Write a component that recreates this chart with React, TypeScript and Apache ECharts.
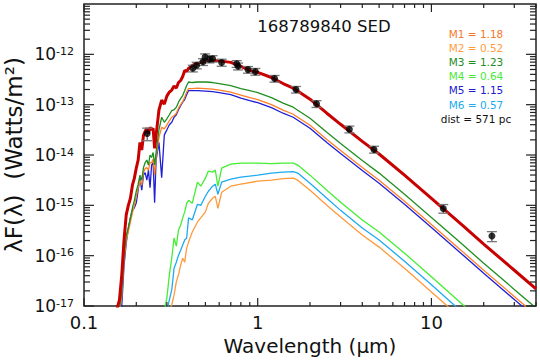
import React, { useEffect, useRef } from 'react';
import * as echarts from 'echarts';

const FONT = '"DejaVu Sans", Verdana, sans-serif';
const X_MIN = 0.1;
const X_MAX = 40;
const Y_MIN = 1e-17;
const Y_MAX = 1e-11;

// wavelength grid (micron) for total model and the three hotter components
const hotGrid = [
  0.155, 0.16, 0.165, 0.17, 0.175, 0.18, 0.185, 0.19, 0.195, 0.2, 0.205, 0.21, 0.215, 0.22, 0.225,
  0.23, 0.235, 0.24, 0.245, 0.25, 0.255, 0.26,
  0.27, 0.28, 0.29, 0.3, 0.31, 0.32, 0.33, 0.34, 0.35, 0.36, 0.37, 0.38, 0.39, 0.4,
  0.42, 0.45, 0.5, 0.55, 0.6, 0.7, 0.8, 0.9, 1.0,
  1.2, 1.4, 1.6, 2.0, 2.5, 3, 4, 5, 7, 10, 15, 20, 30, 40,
];
// log10 of lambda*F(lambda) [W/m^2]
const totalLog = [
  -17.05, -16.88, -16.38, -15.69, -15.19, -15.0, -14.86, -14.6, -14.46, -14.26, -14.1, -13.75, -13.9, -13.61, -13.53,
  -13.47, -13.57, -13.45, -13.5, -13.47, -13.87, -13.61,
  -13.11, -12.91, -12.99, -12.83, -12.75, -12.71, -12.63, -12.67, -12.56, -12.52, -12.44, -12.32, -12.34, -12.28,
  -12.22, -12.18, -12.14, -12.12, -12.13, -12.16, -12.24, -12.32, -12.36,
  -12.46, -12.58, -12.67, -12.89, -13.17, -13.39, -13.73, -13.98, -14.4, -14.86, -15.39, -15.77, -16.29, -16.66,
];
const m3Log = [
  -17.3, -17.05, -16.7, -16.0, -15.6, -15.45, -15.25, -15.05, -14.9, -14.72, -14.58, -14.4, -14.5, -14.25, -14.15,
  -14.1, -14.2, -14.0, -14.05, -13.95, -14.2, -13.95,
  -13.5, -13.25, -13.35, -13.28, -13.2, -13.12, -13.1, -13.05, -12.95, -12.88, -12.82, -12.72, -12.62, -12.55,
  -12.56, -12.55, -12.55, -12.56, -12.58, -12.62, -12.68, -12.72, -12.76,
  -12.86, -12.97, -13.05, -13.27, -13.55, -13.77, -14.11, -14.36, -14.78, -15.24, -15.77, -16.15, -16.67, -17.04,
];
const m1Log = [
  -17.4, -17.12, -16.8, -16.1, -15.7, -15.52, -15.33, -15.15, -15.0, -14.82, -14.66, -14.5, -14.6, -14.35, -14.27,
  -14.25, -14.3, -14.15, -14.15, -14.08, -14.4, -14.05,
  -13.65, -13.45, -13.48, -13.4, -13.32, -13.25, -13.22, -13.17, -13.07, -13.0, -12.94, -12.85, -12.75, -12.68,
  -12.68, -12.67, -12.68, -12.69, -12.71, -12.75, -12.81, -12.86, -12.9,
  -13.0, -13.11, -13.19, -13.41, -13.69, -13.91, -14.25, -14.5, -14.92, -15.38, -15.91, -16.29, -16.81, -17.18,
];
const m5Log = [
  -17.6, -17.3, -17.0, -16.2, -15.75, -15.45, -15.25, -15.1, -15.05, -14.95, -14.7, -14.45, -14.7, -14.4, -14.35,
  -14.5, -14.3, -14.65, -14.2, -14.15, -14.95, -14.1,
  -13.75, -14.45, -13.6, -13.5, -13.4, -13.35, -13.25, -13.2, -13.1, -13.02, -12.95, -12.9, -12.8, -12.72,
  -12.72, -12.72, -12.73, -12.74, -12.76, -12.8, -12.87, -12.92, -12.96,
  -13.06, -13.17, -13.25, -13.47, -13.75, -13.97, -14.31, -14.56, -14.98, -15.44, -15.97, -16.35, -16.87, -17.24,
];

// wavelength grid for the three cooler components
const coolGrid = [
  0.29, 0.3, 0.31, 0.32, 0.33, 0.34, 0.35, 0.36, 0.37, 0.38, 0.39, 0.4,
  0.42, 0.45, 0.47, 0.5, 0.52, 0.55, 0.57, 0.59, 0.62,
  0.7, 0.8, 1.0, 1.2, 1.4, 1.6, 1.7,
  2.0, 2.5, 3, 4, 5, 7, 10, 15, 20,
];
const m4Log = [
  -17.08, -16.84, -16.38, -16.05, -15.65, -15.81, -15.49, -15.39, -15.25, -15.13, -14.96, -14.9,
  -14.96, -14.54, -14.62, -14.46, -14.32, -14.34, -14.3, -14.62, -14.26,
  -14.18, -14.16, -14.16, -14.17, -14.16, -14.16, -14.2,
  -14.4, -14.7, -14.94, -15.29, -15.53, -15.95, -16.42, -16.96, -17.34,
];
const m6Log = [
  -17.5, -17.1, -16.88, -16.68, -16.25, -16.13, -15.99, -15.89, -15.79, -15.69, -15.65, -15.25,
  -15.29, -14.98, -15.0, -14.82, -14.72, -14.62, -14.58, -14.78, -14.54,
  -14.48, -14.44, -14.4, -14.36, -14.34, -14.33, -14.36,
  -14.56, -14.86, -15.1, -15.45, -15.69, -16.11, -16.58, -17.12, -17.5,
];
const m2Log = [
  -17.6, -17.4, -17.05, -16.98, -16.78, -16.52, -16.38, -16.19, -16.05, -16.13, -15.85, -15.73,
  -15.53, -15.33, -15.25, -15.13, -14.96, -14.86, -14.82, -15.06, -14.74,
  -14.62, -14.58, -14.52, -14.5, -14.47, -14.46, -14.5,
  -14.7, -15.0, -15.23, -15.59, -15.83, -16.25, -16.72, -17.26, -17.6,
];

// photometry
const photWave = [0.231, 0.423, 0.445, 0.484, 0.498, 0.528, 0.55, 0.62, 0.757, 0.771, 0.879, 0.969, 1.25, 1.66, 2.18, 3.37, 4.67, 11.7, 22.3];
const photFlux = [2.67e-14, 5.27e-13, 6.05e-13, 7.1e-13, 8.8e-13, 7.96e-13, 8.2e-13, 6.9e-13, 6.5e-13, 5.8e-13, 4.97e-13, 4.54e-13, 3.3e-13, 2.0e-13, 1.04e-13, 3.25e-14, 1.29e-14, 8.67e-16, 2.45e-16];
const photErr = [0.75e-14, 0.8e-13, 0.9e-13, 1.1e-13, 1.4e-13, 1.2e-13, 1.2e-13, 1.1e-13, 1.0e-13, 0.9e-13, 0.75e-13, 0.7e-13, 0.5e-13, 0.3e-13, 0.16e-13, 0.5e-14, 0.2e-14, 1.7e-16, 0.55e-16];

const legendLabels = ['M1 = 1.18', 'M2 = 0.52', 'M3 = 1.23', 'M4 = 0.64', 'M5 = 1.15', 'M6 = 0.57', 'dist = 571 pc'];
const legendColors = ['#f5792a', '#ff9c3f', '#1e8c1e', '#4ae83a', '#2020d0', '#22aaee', '#111111'];
const titleText = '168789840 SED';

const pairs = (grid: number[], logs: number[]) => grid.map((w, i) => [w, Math.pow(10, logs[i])]);

const isDecade = (v: number) => {
  const l = Math.log10(v);
  return Math.abs(l - Math.round(l)) < 1e-6;
};

export default function App() {
  const ref = useRef<HTMLDivElement>(null);
  useEffect(() => {
    if (!ref.current) return;
    const chart = echarts.init(ref.current, undefined, { renderer: 'svg' });

    const comp = (name: string, grid: number[], logs: number[], color: string, width = 1.3) => ({
      name,
      type: 'line',
      data: pairs(grid, logs),
      showSymbol: false,
      symbol: 'none',
      lineStyle: { color, width },
      itemStyle: { color },
      clip: true,
      silent: true,
    });

    const tickRender = (params: any, api: any) => {
      const cs = params.coordSys;
      const left = cs.x, right = cs.x + cs.width, top = cs.y, bottom = cs.y + cs.height;
      const children: any[] = [];
      const st = { stroke: '#222', lineWidth: 1.2 };
      for (let k = -1; k <= 1; k++) {
        for (let m = 1; m <= 9; m++) {
          const v = m * Math.pow(10, k);
          if (v < X_MIN - 1e-9 || v > X_MAX) continue;
          const px = api.coord([v, 1e-14])[0];
          const len = m === 1 ? 8 : 4;
          children.push({ type: 'line', shape: { x1: px, y1: bottom, x2: px, y2: bottom - len }, style: st });
          children.push({ type: 'line', shape: { x1: px, y1: top, x2: px, y2: top + len }, style: st });
        }
      }
      for (let k = -17; k <= -12; k++) {
        for (let m = 1; m <= 9; m++) {
          const v = m * Math.pow(10, k);
          const py = api.coord([1, v])[1];
          const len = m === 1 ? 10 : 6;
          children.push({ type: 'line', shape: { x1: left, y1: py, x2: left + len, y2: py }, style: st });
          children.push({ type: 'line', shape: { x1: right, y1: py, x2: right - len, y2: py }, style: st });
        }
      }
      return { type: 'group', children };
    };

    const errRender = (params: any, api: any) => {
      const lo = api.coord([api.value(0), api.value(1)]);
      const hi = api.coord([api.value(0), api.value(2)]);
      const w = 5;
      return {
        type: 'group',
        children: [
          { type: 'line', shape: { x1: lo[0], y1: lo[1], x2: hi[0], y2: hi[1] }, style: { stroke: '#333', lineWidth: 1 } },
          { type: 'line', shape: { x1: lo[0] - w, y1: lo[1], x2: lo[0] + w, y2: lo[1] }, style: { stroke: '#777', lineWidth: 1.3 } },
          { type: 'line', shape: { x1: hi[0] - w, y1: hi[1], x2: hi[0] + w, y2: hi[1] }, style: { stroke: '#777', lineWidth: 1.3 } },
        ],
      };
    };

    const graphics: any[] = [
      {
        type: 'text', x: 324, y: 26,
        style: { text: titleText, font: `16.5px ${FONT}`, fill: '#111', align: 'center', verticalAlign: 'middle', textAlign: 'center', textVerticalAlign: 'middle' },
      },
      {
        type: 'text', x: 310, y: 346,
        style: { text: 'Wavelength (\u03bcm)', font: `20px ${FONT}`, fill: '#111', align: 'center', verticalAlign: 'middle', textAlign: 'center', textVerticalAlign: 'middle' },
      },
      {
        type: 'text', x: 14, y: 155, rotation: Math.PI / 2,
        style: { text: '\u03bbF(\u03bb)  (Watts/m\u00b2)', font: `23px ${FONT}`, fill: '#111', align: 'center', verticalAlign: 'middle', textAlign: 'center', textVerticalAlign: 'middle' },
      },
      ...legendLabels.map((t, i) => ({
        type: 'text', x: 476, y: 34 + i * 14.1,
        style: { text: t, font: `10.5px ${FONT}`, fill: legendColors[i], align: 'center', verticalAlign: 'middle', textAlign: 'center', textVerticalAlign: 'middle' },
      })),
    ];

    chart.setOption({
      animation: false,
      backgroundColor: '#fff',
      grid: { left: 84, right: 4, top: 4, bottom: 55, show: true, borderColor: '#222', borderWidth: 1.5, backgroundColor: 'transparent' },
      xAxis: {
        type: 'log', logBase: 10, min: X_MIN, max: X_MAX,
        axisLine: { show: false }, axisTick: { show: false }, splitLine: { show: false }, minorTick: { show: false },
        axisLabel: {
          margin: 7, fontSize: 18, fontFamily: FONT, color: '#111',
          formatter: (v: number) => (isDecade(v) ? (v >= 1 ? String(Math.round(v)) : String(Math.round(v * 10) / 10)) : ''),
        },
      },
      yAxis: {
        type: 'log', logBase: 10, min: Y_MIN, max: Y_MAX,
        axisLine: { show: false }, axisTick: { show: false }, splitLine: { show: false }, minorTick: { show: false },
        axisLabel: {
          margin: 10, fontFamily: FONT, color: '#111',
          formatter: (v: number) => {
            const e = Math.round(Math.log10(v));
            if (!isDecade(v) || e >= -11) return '';
            return `{b|10}{s|${e}}`;
          },
          rich: {
            b: { fontSize: 17, fontFamily: FONT, color: '#111' },
            s: { fontSize: 11, fontFamily: FONT, color: '#111', verticalAlign: 'top' },
          },
        },
      },
      graphic: graphics,
      series: [
        comp('M2', coolGrid, m2Log, '#ff9a3c'),
        comp('M6', coolGrid, m6Log, '#1eaaf0'),
        comp('M4', coolGrid, m4Log, '#44ee33'),
        comp('M5', hotGrid, m5Log, '#1f1fd6'),
        comp('M1', hotGrid, m1Log, '#ff7f27'),
        comp('M3', hotGrid, m3Log, '#1f8f1f'),
        comp('Total', hotGrid, totalLog, '#c80000', 3),
        {
          type: 'custom', name: 'errors', coordinateSystem: 'cartesian2d', silent: true,
          data: photWave.map((w, i) => [w, photFlux[i] - photErr[i], photFlux[i] + photErr[i]]),
          encode: { x: 0, y: [1, 2] },
          renderItem: errRender,
          z: 5,
        },
        {
          type: 'scatter', name: 'phot', silent: true,
          data: photWave.map((w, i) => [w, photFlux[i]]),
          symbol: 'circle', symbolSize: 7,
          itemStyle: { color: '#000' },
          z: 6,
        },
        {
          type: 'custom', name: 'ticks', coordinateSystem: 'cartesian2d', silent: true,
          data: [[1, 1e-14]],
          encode: { x: 0, y: 1 },
          renderItem: tickRender,
          clip: false,
          z: 7,
        },
      ],
    });
    return () => chart.dispose();
  }, []);
  return <div ref={ref} style={{ position: 'fixed', left: 0, top: 0, width: 540, height: 361, background: '#fff' }} />;
}
